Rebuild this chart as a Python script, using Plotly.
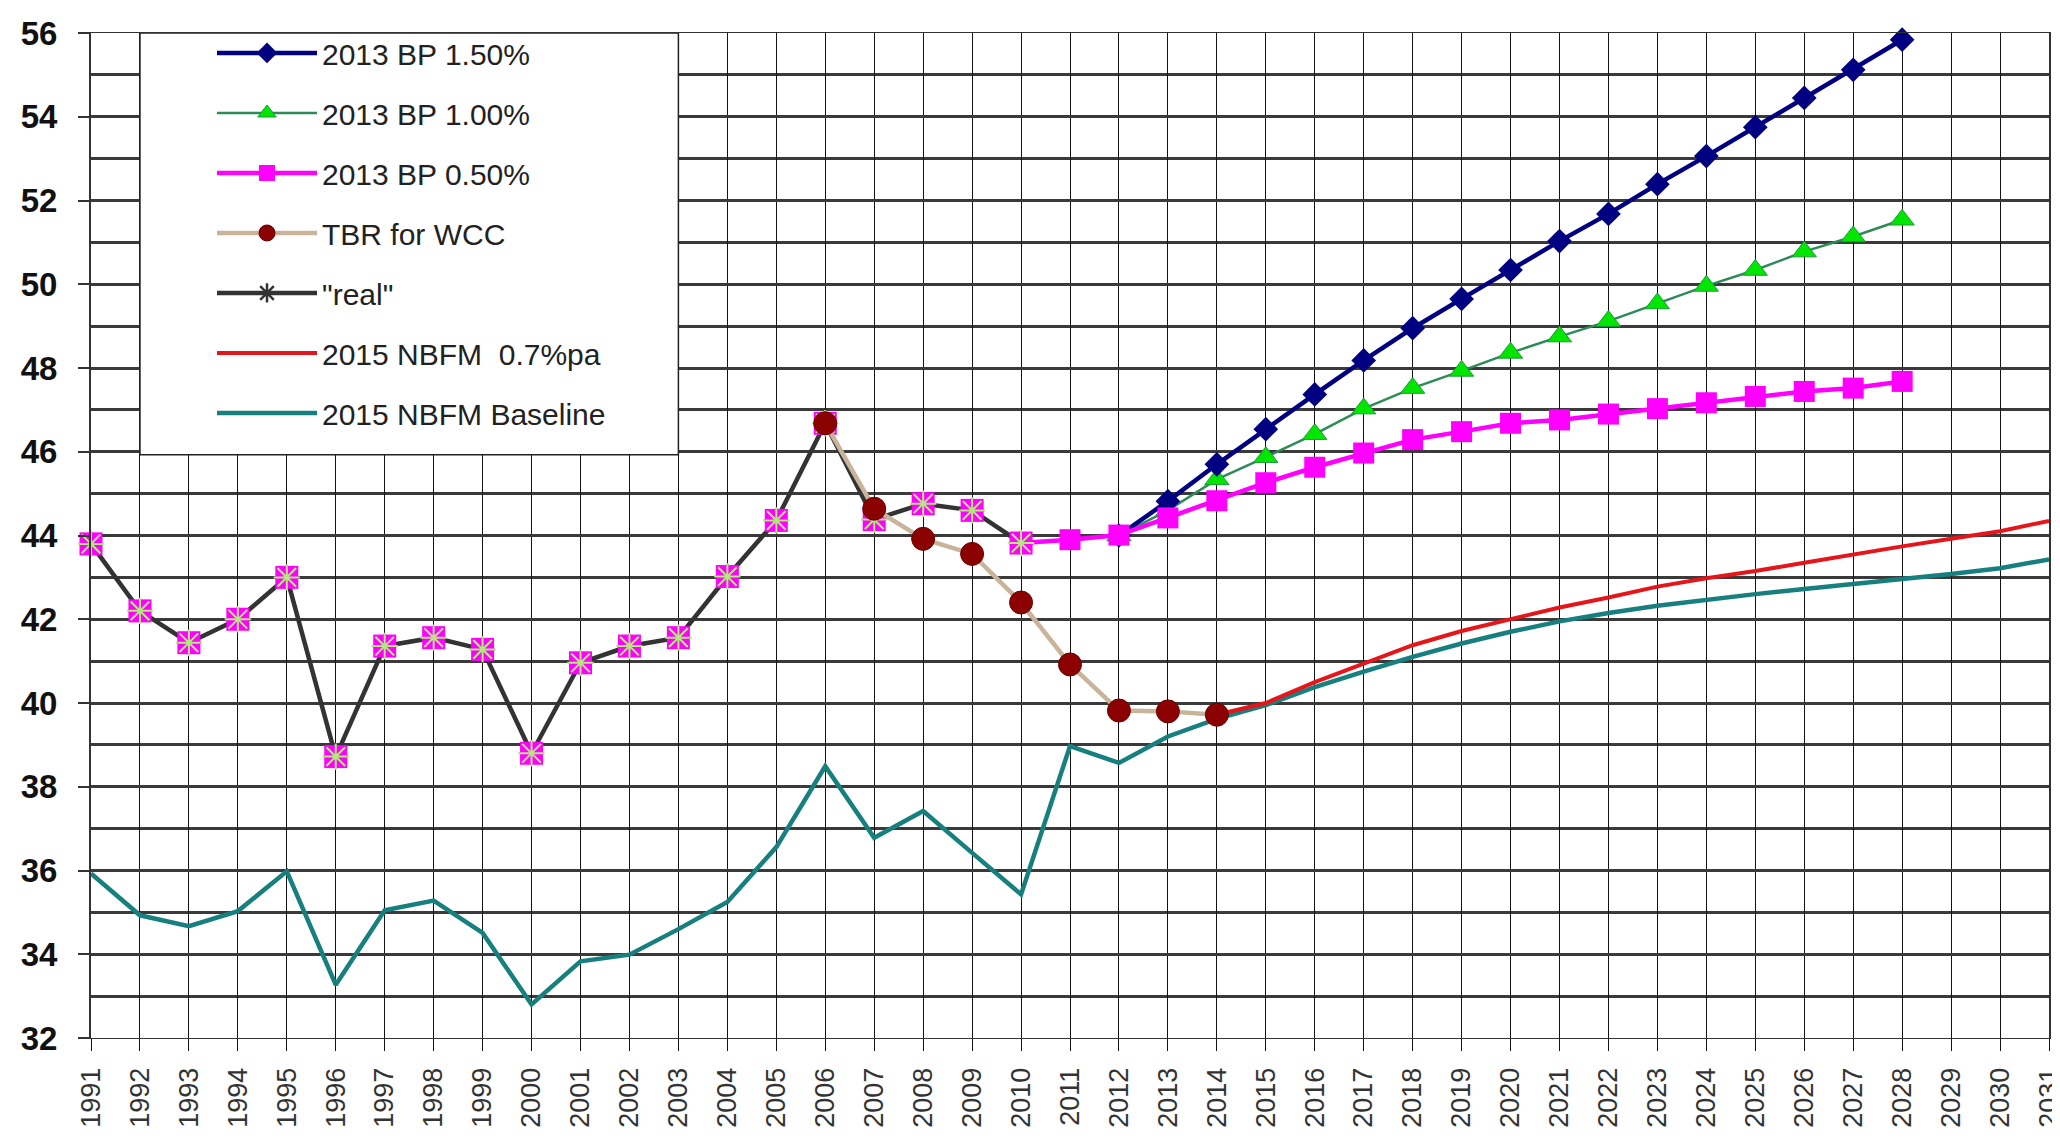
import plotly.graph_objects as go

# historic "real" values
years_real = list(range(1991, 2011))
real = [43.8, 42.2, 41.44, 42.0, 43.0, 38.72, 41.36, 41.56, 41.28, 38.8,
        40.96, 41.36, 41.56, 43.02, 44.36, 46.68, 44.38, 44.76, 44.6, 43.82]

# TBR for WCC
years_tbr = list(range(2006, 2015))
tbr = [46.68, 44.64, 43.92, 43.56, 42.4, 40.92, 39.82, 39.8, 39.72]

# 2013 BP scenarios
years_bp05 = list(range(2010, 2029))
bp05 = [43.82, 43.9, 44.01, 44.42, 44.83, 45.26, 45.63, 45.97, 46.29, 46.48,
        46.68, 46.76, 46.9, 47.03, 47.17, 47.32, 47.44, 47.52, 47.68]
years_bp = list(range(2012, 2029))
bp15 = [44.0, 44.82, 45.7, 46.54, 47.37, 48.18, 48.95, 49.65, 50.34, 51.03,
        51.68, 52.39, 53.06, 53.75, 54.45, 55.12, 55.84]
bp10 = [44.0, 44.6, 45.34, 45.87, 46.42, 47.03, 47.52, 47.93, 48.36, 48.75,
        49.12, 49.54, 49.96, 50.34, 50.78, 51.14, 51.54]

# 2015 NBFM
years_nbfm = list(range(2014, 2032))
nbfm07 = [39.72, 40.0, 40.5, 40.95, 41.38, 41.72, 42.0, 42.28, 42.52, 42.78,
          42.98, 43.15, 43.35, 43.55, 43.74, 43.92, 44.1, 44.35]
years_base = list(range(1991, 2032))
baseline = [35.93, 34.93, 34.67, 35.03, 35.98, 33.27, 35.05, 35.28, 34.51, 32.8,
            33.83, 33.99, 34.6, 35.25, 36.56, 38.49, 36.78, 37.42, 36.42, 35.43,
            38.97, 38.57, 39.2, 39.62, 39.95, 40.38, 40.75, 41.1, 41.42, 41.7,
            41.95, 42.15, 42.32, 42.47, 42.6, 42.72, 42.85, 42.96, 43.08, 43.22, 43.43]

names = ["2013 BP 1.50%", "2013 BP 1.00%", "2013 BP 0.50%", "TBR for WCC",
         '"real"', "2015 NBFM  0.7%pa", "2015 NBFM Baseline"]

fig = go.Figure()

fig.add_trace(go.Scatter(x=years_base, y=baseline, name=names[6], mode="lines",
                         line=dict(color="#17807e", width=4.5),
                         legendgroup="g7", legendrank=7, cliponaxis=False))
fig.add_trace(go.Scatter(x=years_nbfm, y=nbfm07, name=names[5], mode="lines",
                         line=dict(color="#e5161b", width=4),
                         legendgroup="g6", legendrank=6, cliponaxis=False))
fig.add_trace(go.Scatter(x=years_bp, y=bp10, name=names[1], mode="lines+markers",
                         line=dict(color="#2e8b57", width=2.5),
                         marker=dict(symbol="triangle-up", size=21, color="#00e600",
                                     line=dict(color="#1a9a3a", width=1)),
                         legendgroup="g2", legendrank=2, cliponaxis=False))
fig.add_trace(go.Scatter(x=years_bp, y=bp15, name=names[0], mode="lines+markers",
                         line=dict(color="#000080", width=4.5),
                         marker=dict(symbol="diamond", size=19, color="#000080"),
                         legendgroup="g1", legendrank=1, cliponaxis=False))
fig.add_trace(go.Scatter(x=years_bp05, y=bp05, name=names[2], mode="lines+markers",
                         line=dict(color="#ff00ff", width=4.5),
                         marker=dict(symbol="square", size=21, color="#ff00ff"),
                         legendgroup="g3", legendrank=3, cliponaxis=False))
fig.add_trace(go.Scatter(x=years_real, y=real, name=names[4], mode="lines+markers",
                         line=dict(color="#333333", width=4.5),
                         marker=dict(symbol="asterisk-open", size=20,
                                     line=dict(color="#9a1fb0", width=2.5)),
                         legendgroup="g5", legendrank=5, cliponaxis=False))
fig.add_trace(go.Scatter(x=years_real, y=real, mode="markers", showlegend=False,
                         marker=dict(symbol="square", size=23, color="#ff00ff"),
                         legendgroup="g5", cliponaxis=False, hoverinfo="skip"))
fig.add_trace(go.Scatter(x=years_real, y=real, mode="markers", showlegend=False,
                         marker=dict(symbol="asterisk-open", size=22,
                                     line=dict(color="#a020c0", width=2)),
                         legendgroup="g5", cliponaxis=False, hoverinfo="skip"))
fig.add_trace(go.Scatter(x=years_tbr, y=tbr, name=names[3], mode="lines+markers",
                         line=dict(color="#c8b49a", width=4.5),
                         marker=dict(symbol="circle", size=23, color="#8b0000",
                                     line=dict(color="#6a0000", width=1)),
                         legendgroup="g4", legendrank=4, cliponaxis=False))

# legend frame
fig.add_shape(type="rect", xref="x", yref="y", x0=1992, x1=2003, y0=45.93, y1=56,
              fillcolor="white", line=dict(color="#222222", width=1.5), layer="above")

fig.update_layout(
    width=2060, height=1140,
    margin=dict(l=83, r=19, t=25, b=110),
    plot_bgcolor="white", paper_bgcolor="white",
    showlegend=True,
    legend=dict(x=0.0618, y=1.006, xanchor="left", yanchor="top",
                bgcolor="rgba(0,0,0,0)", borderwidth=0,
                font=dict(family="Liberation Sans, Arial, sans-serif", size=30, color="#222222"),
                itemwidth=100, tracegroupgap=18, traceorder="grouped"),
)
fig.update_xaxes(range=[1991, 2031], dtick=1, tick0=1991, tickangle=-90,
                 showgrid=True, gridcolor="#111111", gridwidth=1,
                 ticks="outside", ticklen=12, tickcolor="#111111", tickwidth=1,
                 ticklabelstandoff=6, ticklabeloverflow="allow",
                 showline=True, linecolor="#333333", linewidth=1, mirror=True,
                 tickfont=dict(family="Liberation Sans, Arial, sans-serif", size=27, color="#333333"),
                 zeroline=False, automargin=False)
fig.update_yaxes(range=[32, 56], dtick=2, tick0=32,
                 showgrid=True, gridcolor="#3a3a3a", gridwidth=2.5,
                 minor=dict(dtick=1, showgrid=True, gridcolor="#3a3a3a", gridwidth=2.5),
                 ticks="outside", ticklen=11, tickcolor="#333333", tickwidth=2,
                 ticklabelstandoff=14,
                 showline=True, linecolor="#333333", linewidth=2, mirror=True,
                 tickfont=dict(family="Liberation Sans Narrow, Arial Narrow, sans-serif",
                               size=33, color="#111111", weight="bold"),
                 zeroline=False, automargin=False)

fig.write_html("out.html")
